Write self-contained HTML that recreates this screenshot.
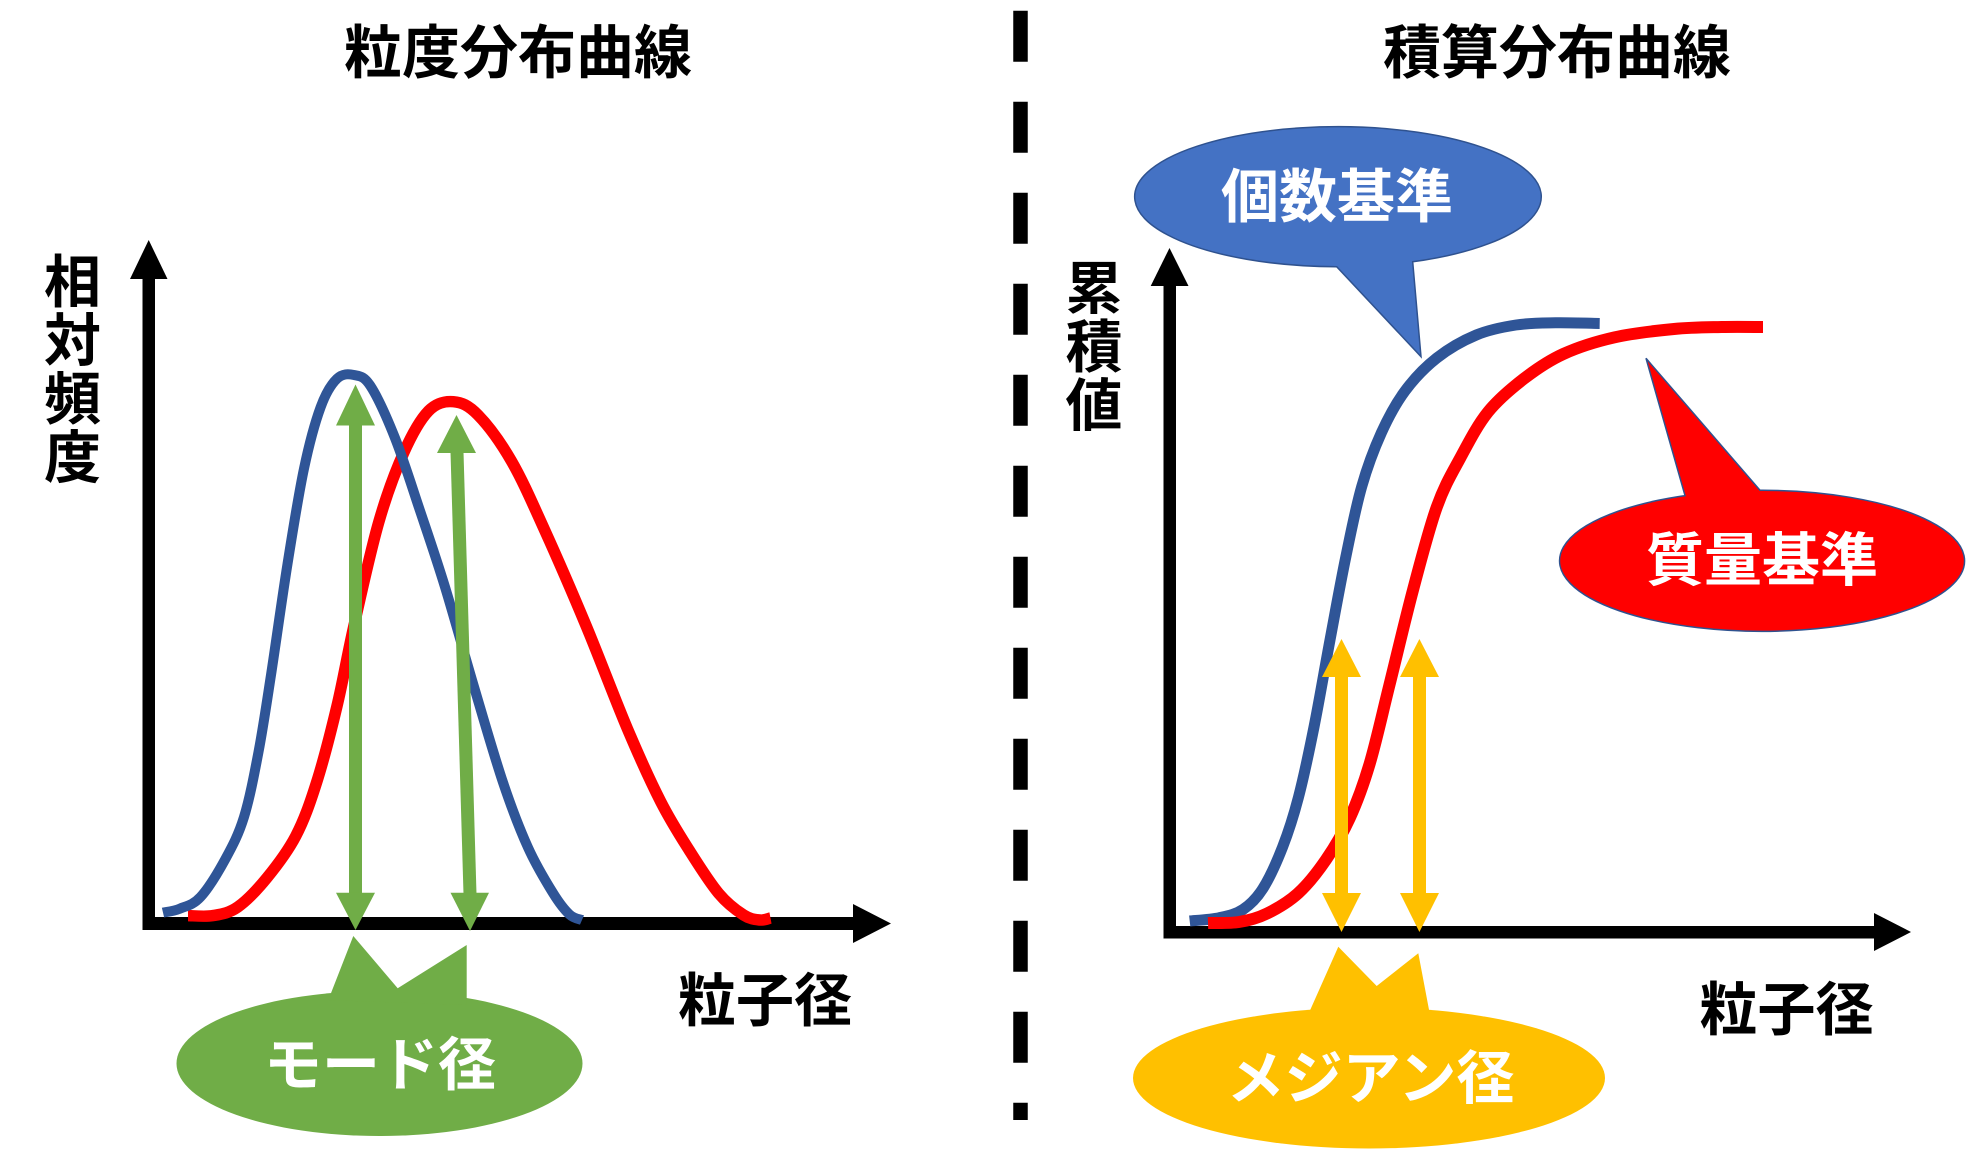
<!DOCTYPE html>
<html lang="ja">
<head>
<meta charset="utf-8">
<style>
  html, body { margin: 0; padding: 0; background: #fff; }
  body { width: 1966px; height: 1150px; overflow: hidden; }
  svg { display: block; }
  text { font-family: "Liberation Sans", "Noto Sans CJK JP", "Noto Sans CJK SC", sans-serif; font-weight: 700; }
</style>
</head>
<body>
<svg id="chart" width="1966" height="1150" viewBox="0 0 1966 1150" xmlns="http://www.w3.org/2000/svg">
  <rect x="0" y="0" width="1966" height="1150" fill="#fff"/>

  <!-- Titles -->
  <text x="518" y="73" font-size="58" text-anchor="middle" fill="#000">粒度分布曲線</text>
  <text x="1557" y="73" font-size="58" text-anchor="middle" fill="#000">積算分布曲線</text>

  <!-- Dashed divider -->
  <line x1="1020.5" y1="10.7" x2="1020.5" y2="1120" stroke="#000" stroke-width="14.5" stroke-dasharray="51 40"/>

  <!-- ============ LEFT CHART ============ -->
  <rect x="142.5" y="276" width="12.5" height="654" fill="#000"/>
  <polygon points="148.7,240 167.5,279 130,279" fill="#000"/>
  <rect x="142.5" y="917" width="713" height="13" fill="#000"/>
  <polygon points="853,904 891,923.5 853,943" fill="#000"/>

  <g font-size="57" fill="#000" text-anchor="middle">
    <text x="72.5" y="302">相</text>
    <text x="72.5" y="360.5">対</text>
    <text x="72.5" y="419">頻</text>
    <text x="72.5" y="477.5">度</text>
  </g>
  <text x="765" y="1021" font-size="58" text-anchor="middle" fill="#000">粒子径</text>

  <polyline class="smooth" fill="none" stroke="#FF0000" stroke-width="11.5" stroke-linejoin="round" stroke-linecap="butt"
    points="188,915.6 213,915.6 237.8,907 266.8,878 295.8,836 316.6,782.4 337,706 354,625.5 378.8,522 403.6,453 428.5,411 453.4,401.7 478,415 511.4,461 544.6,530 586,625.5 627.5,729 660.7,801.6 689.7,851 718.7,893.4 743.6,915 760,920 770.5,918"/>
  <polyline class="smooth" fill="none" stroke="#2F5597" stroke-width="10" stroke-linejoin="round" stroke-linecap="butt"
    points="163,912.6 179.7,908.7 200.5,897 225.4,859 244,817 258.5,752 271,675 287.5,564 304,468.6 320.7,407 337,378.7 354,375 370.5,386 395,438 420,510.7 445,587 474,686.8 503,782.4 528,847.5 553,893 569.5,914.5 582,920"/>

  <g fill="#70AD47">
    <polygon points="355.5,384.5 375,425.5 336,425.5"/>
    <rect x="349" y="424" width="13" height="470"/>
    <polygon points="336,892.7 375,892.7 355.5,930"/>
    <polygon points="456.5,415 476,453 437,453"/>
    <polygon points="450.5,452 463.5,452 476.5,894 463.5,894"/>
    <polygon points="450.5,892.7 489,892.7 470,931"/>
  </g>

  <g fill="#70AD47">
    <ellipse cx="379.5" cy="1063.5" rx="203" ry="72.5"/>
    <polygon points="328.3,1000 353.3,936 397.7,988.3 466.7,945 466.7,1005"/>
  </g>
  <text x="380" y="1085" font-size="58" text-anchor="middle" fill="#fff">モード径</text>

  <!-- ============ RIGHT CHART ============ -->
  <rect x="1163.5" y="284" width="12.5" height="654" fill="#000"/>
  <polygon points="1169.5,248 1188.5,286 1150.7,286" fill="#000"/>
  <rect x="1163.5" y="926" width="712" height="12.5" fill="#000"/>
  <polygon points="1874,913 1911,932 1874,951" fill="#000"/>

  <g font-size="57" fill="#000" text-anchor="middle">
    <text x="1094" y="308.5">累</text>
    <text x="1094" y="367">積</text>
    <text x="1094" y="425.5">値</text>
  </g>
  <text x="1786.5" y="1030" font-size="58" text-anchor="middle" fill="#000">粒子径</text>

  <path d="M 1336.7,266.7 A 203.3 70 0 1 1 1412.7,261.8 L 1421,356.7 Z" fill="#4472C4" stroke="#2F528F" stroke-width="1.5" stroke-linejoin="miter"/>
  <text x="1337" y="217" font-size="58" text-anchor="middle" fill="#fff">個数基準</text>

  <path d="M 1760,490.3 A 202.5 70.5 0 1 1 1685,495.6 L 1646,358.3 Z" fill="#FF0000" stroke="#2F528F" stroke-width="1.5" stroke-linejoin="miter"/>
  <text x="1762" y="580.5" font-size="58" text-anchor="middle" fill="#fff">質量基準</text>

  <polyline class="smooth" fill="none" stroke="#2F5597" stroke-width="11" stroke-linejoin="round" stroke-linecap="butt"
    points="1189.7,921 1219.3,917.7 1243,909.5 1262.8,888.7 1282.6,847 1298.4,797.5 1314,727 1330,640 1345.8,557 1361.7,486.6 1381.4,432.7 1405,391 1436.8,358 1476.3,335 1516,325 1555.4,322.8 1599.7,323.5"/>
  <polyline class="smooth" fill="none" stroke="#FF0000" stroke-width="12" stroke-linejoin="round" stroke-linecap="butt"
    points="1208,923 1239,922 1266.8,913.6 1298.4,893 1326,859.7 1349.8,818 1369.6,764 1389.3,685.6 1413,590 1436.8,507 1460.5,457.5 1488,412 1523.8,378.8 1563.3,354 1614.7,337.3 1674,329 1721.5,327 1763,327"/>

  <g fill="#FFC000">
    <polygon points="1341.5,639 1361,677 1322,677"/>
    <rect x="1335" y="676" width="13" height="218"/>
    <polygon points="1322,893 1361,893 1341.5,932"/>
    <polygon points="1419.4,639 1439,677 1400,677"/>
    <rect x="1413" y="676" width="13" height="218"/>
    <polygon points="1400,893 1439,893 1419.4,932"/>
  </g>

  <g fill="#FFC000">
    <ellipse cx="1369" cy="1078" rx="236" ry="70.5"/>
    <polygon points="1309.3,1012 1338.3,946.7 1376.7,986 1418.3,953.3 1430,1015"/>
  </g>
  <text x="1370.5" y="1098.5" font-size="58" text-anchor="middle" fill="#fff">メジアン径</text>
</svg>
<script>
(function(){
  var NS = 'http://www.w3.org/2000/svg';
  var lines = document.querySelectorAll('polyline.smooth');
  for (var k = 0; k < lines.length; k++) {
    var pl = lines[k];
    var pts = pl.getAttribute('points').trim().split(/\s+/).map(function(p){ return p.split(',').map(Number); });
    var d = 'M' + pts[0][0] + ',' + pts[0][1];
    for (var i = 0; i < pts.length - 1; i++) {
      var p0 = pts[i-1] || pts[i], p1 = pts[i], p2 = pts[i+1], p3 = pts[i+2] || pts[i+1];
      var c1x = p1[0] + (p2[0] - p0[0]) / 6, c1y = p1[1] + (p2[1] - p0[1]) / 6;
      var c2x = p2[0] - (p3[0] - p1[0]) / 6, c2y = p2[1] - (p3[1] - p1[1]) / 6;
      d += ' C' + c1x.toFixed(2) + ',' + c1y.toFixed(2) + ' ' + c2x.toFixed(2) + ',' + c2y.toFixed(2) + ' ' + p2[0] + ',' + p2[1];
    }
    var path = document.createElementNS(NS, 'path');
    var attrs = ['fill','stroke','stroke-width','stroke-linejoin','stroke-linecap'];
    for (var a = 0; a < attrs.length; a++) path.setAttribute(attrs[a], pl.getAttribute(attrs[a]));
    path.setAttribute('d', d);
    pl.parentNode.replaceChild(path, pl);
  }
})();
</script>
</body>
</html>
